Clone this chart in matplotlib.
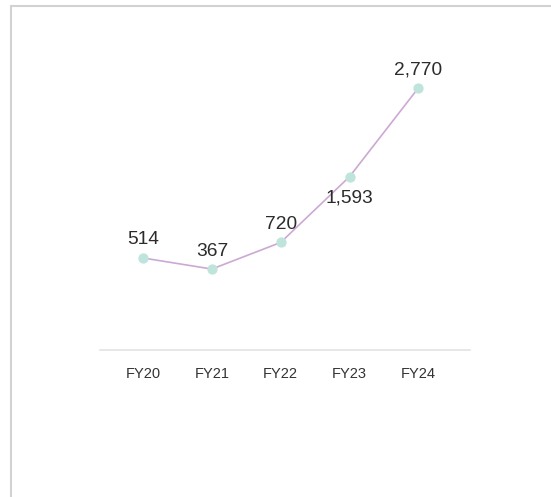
import matplotlib
matplotlib.use("Agg")
import matplotlib.pyplot as plt
from matplotlib.patches import Rectangle

years = ["FY20", "FY21", "FY22", "FY23", "FY24"]
values = [514, 367, 720, 1593, 2770]
label_pos = ["above", "above", "above", "below", "above"]

plt.rcParams['font.family'] = ['Liberation Sans', 'DejaVu Sans']

W, H = 551, 497
fig = plt.figure(figsize=(W / 100, H / 100), dpi=100)

# light frame round the card, open at right and bottom
fig.patches.append(Rectangle((10.5 / W, -0.1), 1.2, 1.1 - 5.5 / H,
                             transform=fig.transFigure, fill=False,
                             edgecolor="#d2d2d2", lw=1.5))

ax = fig.add_axes([100 / W, (H - 350) / H, 370 / W, 302 / H])
x = list(range(len(years)))
ax.plot(x, values, color="#cba9d3", lw=1.2, zorder=2)
ax.scatter(x, values, s=55, color="#bfe4dc", zorder=3, linewidths=0)

for i, v in enumerate(values):
    off = 18 if label_pos[i] == "above" else -21
    ax.annotate(f"{v:,}", (i, v), xytext=(0, off * 0.72), textcoords="offset points",
                ha="center", va="center", fontsize=13.8, color="#2b2b2b")

ax.set_xlim(-0.625, 4.75)
ax.set_ylim(-707, 3300)
ax.set_xticks(x)
ax.set_xticklabels(years, fontsize=10.5, color="#333333")
ax.set_yticks([])
for s in ["top", "right", "left"]:
    ax.spines[s].set_visible(False)
ax.spines["bottom"].set_color("#e3e3e3")
ax.spines["bottom"].set_linewidth(1.2)
ax.tick_params(axis="x", length=0, pad=12.5)

fig.savefig("out.png", dpi=100)
